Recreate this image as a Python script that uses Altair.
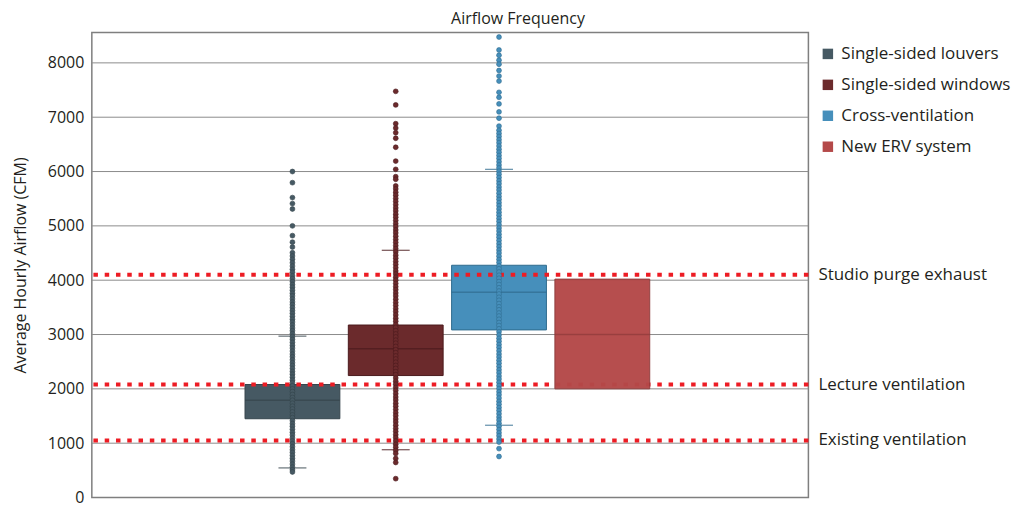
import altair as alt
import pandas as pd

series = ["Single-sided louvers", "Single-sided windows", "Cross-ventilation", "New ERV system"]
fill_colors = ["#465963", "#6b2a2c", "#468fbb", "#b44949"]
dark_colors = ["#34444c", "#4a1a1c", "#2f6b8e", "#8e3a3a"]

# box summaries (CFM)
q1 = [1450, 2245, 3085, 2000]
median = [1790, 2740, 3780, 3000]
q3 = [2080, 3175, 4275, 4020]
whisker_lo = [545, 880, 1330, None]
whisker_hi = [2970, 4550, 6040, None]

# hourly points
louvers_pts = [6000, 5795, 5520, 5410, 5310, 5000, 4820, 4700, 4610, 4505, 4445, 4385, 4320, 4260, 4200, 4145,
               4080, 4030, 3975, 3920, 3870, 3815, 3760, 3710, 3655, 3600, 3550, 3495, 3440, 3390, 3335, 3280,
               3230, 3175, 3120, 3070, 3015, 2960, 2910, 2855, 2800, 2750, 2695, 2640, 2590, 2535, 2480, 2430,
               2375, 2320, 2270, 2215, 2160, 2110, 2055, 2000, 1950, 1895, 1840, 1790, 1735, 1680, 1630, 1575,
               1520, 1470, 1415, 1360, 1310, 1255, 1200, 1150, 1095, 1040, 990, 935, 880, 830, 775, 720, 670,
               615, 560, 510, 470]
windows_pts = [7476, 7226, 6880, 6800, 6715, 6612, 6447, 6192, 6040, 5905, 5857, 5735,
               5680, 5620, 5565, 5505, 5450, 5390, 5330, 5275, 5215, 5160, 5100, 5040, 4985, 4925, 4870, 4810,
               4750, 4695, 4635, 4580, 4520, 4460, 4405, 4345, 4290, 4230, 4170, 4115, 4055, 4000, 3940, 3880,
               3825, 3765, 3710, 3650, 3590, 3535, 3475, 3420, 3360, 3300, 3245, 3185, 3130, 3070, 3010, 2955,
               2895, 2840, 2780, 2720, 2665, 2605, 2550, 2490, 2430, 2375, 2315, 2260, 2200, 2140, 2085, 2025,
               1970, 1910, 1850, 1795, 1735, 1680, 1620, 1560, 1505, 1445, 1390, 1330, 1270, 1215, 1155, 1100,
               1040, 980, 925, 865, 810, 718, 645, 347]
cross_pts = [8475, 8237, 8140, 8050, 7975, 7860, 7757, 7665, 7458, 7366, 7245, 7098, 6982, 6836,
             6760, 6700, 6645, 6585, 6530, 6470, 6410, 6355, 6295, 6240, 6180, 6120, 6065, 6005, 5950, 5890,
             5830, 5775, 5715, 5660, 5600, 5540, 5485, 5425, 5370, 5310, 5250, 5195, 5135, 5080, 5020, 4960,
             4905, 4845, 4790, 4730, 4670, 4615, 4555, 4500, 4440, 4380, 4325, 4265, 4210, 4150, 4090, 4035,
             3975, 3920, 3860, 3800, 3745, 3685, 3630, 3570, 3510, 3455, 3395, 3340, 3280, 3220, 3165, 3105,
             3050, 2990, 2930, 2875, 2815, 2760, 2700, 2640, 2585, 2525, 2470, 2410, 2350, 2295, 2235, 2180,
             2120, 2060, 2005, 1945, 1890, 1830, 1770, 1715, 1655, 1600, 1540, 1480, 1425, 1365, 1310, 1250,
             1190, 1135, 1075, 1020, 900, 755]

ref_names = ["Studio purge exhaust", "Lecture ventilation", "Existing ventilation"]
ref_values = [4100, 2080, 1050]

y_ticks = [0, 1000, 2000, 3000, 4000, 5000, 6000, 7000, 8000]

W, H = 718, 466
FONT = "Open Sans"
TXT = "#231f20"
FS = 17

boxes = pd.DataFrame({"series": series, "q1": q1, "median": median, "q3": q3,
                      "lo": whisker_lo, "hi": whisker_hi})
pts = pd.DataFrame({
    "series": [series[0]] * len(louvers_pts) + [series[1]] * len(windows_pts) + [series[2]] * len(cross_pts),
    "value": louvers_pts + windows_pts + cross_pts,
})
refs = pd.DataFrame({"name": ref_names, "value": ref_values})
grid = pd.DataFrame({"tick": y_ticks[1:]})

xscale = alt.Scale(domain=series, range=[101.75, 610.75], paddingInner=0.082, paddingOuter=0.5)
yscale = alt.Scale(domain=[0, 8560], nice=False)
X = alt.X("series:N", scale=xscale, axis=None)

yaxis = alt.Axis(values=y_ticks, format="d", title="Average Hourly Airflow (CFM)",
                 ticks=False, domain=False, labelPadding=8, labelFontSize=16, labelColor=TXT,
                 labelFont=FONT, titleFont=FONT, titleFontSize=16, titleColor=TXT,
                 titleFontWeight="normal", titlePadding=19, grid=False)


def Y(field):
    return alt.Y(field, scale=yscale, axis=yaxis)


color_scale = alt.Scale(domain=series, range=fill_colors)
dark_scale = alt.Scale(domain=series, range=dark_colors)

grid_lines = alt.Chart(grid).mark_rule(color="#8c8c8c", strokeWidth=1).encode(y=Y("tick:Q"))

base_box = alt.Chart(boxes)

box_main = base_box.transform_filter(alt.datum.series != series[3]).mark_bar(strokeWidth=1).encode(
    x=X,
    y=Y("q1:Q"),
    y2="q3:Q",
    color=alt.Color("series:N", scale=color_scale, sort=series, title=None,
                    legend=alt.Legend(orient="none", legendX=W + 11, legendY=13, symbolType="square",
                                      symbolSize=110, symbolStrokeWidth=0, labelFontSize=FS,
                                      labelFont=FONT, labelColor=TXT, rowPadding=13, labelOffset=5,
                                      labelLimit=400)),
    stroke=alt.Stroke("series:N", scale=dark_scale, legend=None),
)

box_erv = base_box.transform_filter(alt.datum.series == series[3]).mark_bar(strokeWidth=1, opacity=0.97).encode(
    x=X, y=Y("q1:Q"), y2="q3:Q",
    color=alt.Color("series:N", scale=color_scale, legend=None),
    stroke=alt.Stroke("series:N", scale=dark_scale, legend=None),
)

medians = base_box.mark_tick(size=95, thickness=1.5).encode(
    x=X, y=Y("median:Q"),
    fill=alt.Fill("series:N", scale=dark_scale, legend=None),
)

caps_lo = base_box.transform_filter("isValid(datum.lo)").mark_tick(size=28, thickness=1.3).encode(
    x=X, y=Y("lo:Q"),
    fill=alt.Fill("series:N", scale=dark_scale, legend=None),
)
caps_hi = base_box.transform_filter("isValid(datum.hi)").mark_tick(size=28, thickness=1.3).encode(
    x=X, y=Y("hi:Q"),
    fill=alt.Fill("series:N", scale=dark_scale, legend=None),
)

ref_lines = alt.Chart(refs).mark_rule(color="#ed1c24", strokeWidth=4, strokeDash=[4.5, 6.8]).encode(
    y=Y("value:Q"),
)
ref_text = alt.Chart(refs).mark_text(align="left", baseline="middle", fontSize=FS, font=FONT,
                                     color=TXT).encode(
    x=alt.value(W + 10), y=Y("value:Q"), text="name:N",
)

points = alt.Chart(pts).mark_circle(size=24, opacity=1, strokeWidth=0.6).encode(
    x=X, y=Y("value:Q"),
    color=alt.Color("series:N", scale=color_scale, legend=None),
    stroke=alt.Stroke("series:N", scale=dark_scale, legend=None),
)

chart = alt.layer(grid_lines, box_main, ref_lines, box_erv, medians, caps_lo, caps_hi, points,
                  ref_text).properties(
    width=W, height=H,
    title=alt.TitleParams("Airflow Frequency", font=FONT, fontSize=16, fontWeight="normal",
                          color=TXT, anchor="middle", dx=68, offset=5),
    padding={"left": 4, "top": 3, "right": 0, "bottom": 0},
).configure_view(stroke="#7f7f7f", strokeWidth=1.5)

chart.save("out.html", embed_options={"renderer": "svg", "actions": False})
